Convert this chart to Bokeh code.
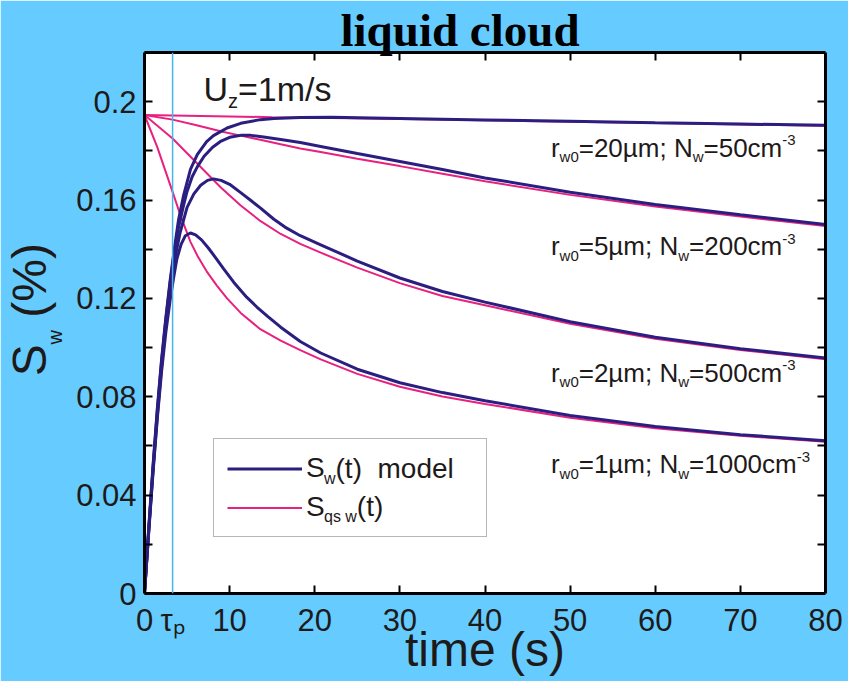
from bokeh.plotting import figure
from bokeh.models import Label, Legend, LegendItem, LinearAxis, FixedTicker, Span, Range1d, Title
from bokeh.embed import file_html
from bokeh.resources import INLINE

# ---------------- data ----------------
# S_w(t) model curves (navy), one per droplet population
t_m20 = [0, 0.5, 1, 1.5, 2, 2.5, 3, 3.5, 4, 4.6, 5.4, 6.2, 7.3, 8.1, 9.7, 11.3, 13.6, 15.2, 18.3, 22, 30, 40, 50, 60, 70, 80]
s_m20 = [0, 0.027, 0.052, 0.075, 0.095, 0.112, 0.127, 0.140, 0.152, 0.162, 0.1725, 0.1785, 0.1838, 0.1862, 0.1893, 0.1912, 0.1927, 0.1932, 0.1936, 0.1937, 0.1932, 0.1926, 0.1920, 0.1914, 0.1909, 0.1904]

t_m5 = [0, 0.5, 1, 1.5, 2, 2.5, 3, 3.5, 4, 4.6, 5.0, 5.6, 6.2, 7.0, 8.0, 9.0, 10.0, 11.3, 12.5, 14, 16, 18.3, 20.7, 25, 30, 35, 40, 50, 60, 70, 80]
s_m5 = [0, 0.026, 0.051, 0.074, 0.094, 0.111, 0.126, 0.139, 0.149, 0.158, 0.1635, 0.1695, 0.1735, 0.1778, 0.1815, 0.1840, 0.1855, 0.1863, 0.1863, 0.1856, 0.1846, 0.1834, 0.1818, 0.1789, 0.1757, 0.1724, 0.1690, 0.1632, 0.1582, 0.1540, 0.1501]

t_m2 = [0, 0.5, 1, 1.5, 2, 2.5, 3, 3.5, 4.2, 5.0, 5.8, 6.6, 7.4, 8.1, 9.0, 10.0, 11.3, 12.5, 13.6, 15.2, 16.5, 18.3, 20.7, 25, 30, 35, 40, 50, 60, 70, 80]
s_m2 = [0, 0.026, 0.050, 0.072, 0.092, 0.109, 0.123, 0.135, 0.147, 0.157, 0.1625, 0.1660, 0.1680, 0.1686, 0.1680, 0.1664, 0.1630, 0.1598, 0.1568, 0.1522, 0.1490, 0.1455, 0.1418, 0.1352, 0.1283, 0.1228, 0.1185, 0.1105, 0.1042, 0.0995, 0.0958]

t_m1 = [0, 0.5, 1, 1.5, 2, 2.5, 3, 3.4, 3.8, 4.3, 4.8, 5.4, 6.0, 6.7, 7.5, 8.3, 9.3, 10.5, 12.0, 13.2, 14.5, 16, 18.3, 20.7, 25, 30, 35, 40, 50, 60, 70, 80]
s_m1 = [0, 0.025, 0.049, 0.071, 0.090, 0.106, 0.119, 0.128, 0.136, 0.1420, 0.1455, 0.1466, 0.1458, 0.1438, 0.1405, 0.1368, 0.1320, 0.1265, 0.1205, 0.1165, 0.1126, 0.1083, 0.1025, 0.0978, 0.0912, 0.0857, 0.0817, 0.0784, 0.0724, 0.0679, 0.0646, 0.0621]

# quasi-steady S_qs,w(t) curves (pink)
t_q20 = [0, 5, 10, 15, 20, 30, 40, 50, 60, 70, 80]
s_q20 = [0.1946, 0.1943, 0.1940, 0.1937, 0.1935, 0.1930, 0.1924, 0.1918, 0.1913, 0.1907, 0.1902]

t_q5 = [0, 3.3, 6.0, 9.3, 11.3, 13.6, 16, 18.3, 20.7, 25, 30, 35, 40, 50, 60, 70, 80]
s_q5 = [0.1946, 0.1927, 0.1905, 0.1877, 0.1862, 0.1845, 0.1827, 0.1810, 0.1795, 0.1768, 0.1738, 0.1707, 0.1676, 0.1621, 0.1574, 0.1533, 0.1494]

t_q2 = [0, 3.3, 7.0, 9.0, 11.3, 13.6, 16, 18.3, 20.7, 25, 30, 35, 40, 50, 60, 70, 80]
s_q2 = [0.1946, 0.1850, 0.1720, 0.1650, 0.1578, 0.1515, 0.1462, 0.1422, 0.1386, 0.1325, 0.1262, 0.1210, 0.1172, 0.1097, 0.1036, 0.0990, 0.0953]

t_q1 = [0, 1.5, 3.3, 4.2, 5.4, 6.3, 7.3, 8.5, 9.7, 11.3, 13.6, 16, 18.3, 20.7, 25, 30, 35, 40, 50, 60, 70, 80]
s_q1 = [0.1946, 0.1815, 0.1633, 0.1540, 0.1430, 0.1368, 0.1310, 0.1252, 0.1200, 0.1141, 0.1075, 0.1028, 0.0990, 0.0952, 0.0893, 0.0841, 0.0801, 0.0771, 0.0715, 0.0672, 0.0641, 0.0617]

tau_p = 3.3  # droplet relaxation time (s)

x_ticks = [0, 10, 20, 30, 40, 50, 60, 70, 80]
x_tick_labels = ["0", "10", "20", "30", "40", "50", "60", "70", "80"]
y_ticks = [0, 0.04, 0.08, 0.12, 0.16, 0.2]
y_tick_labels = ["0", "0.04", "0.08", "0.12", "0.16", "0.2"]
y_minor = [0.02, 0.06, 0.10, 0.14, 0.18, 0.22]
y_all = [0, 0.02, 0.04, 0.06, 0.08, 0.10, 0.12, 0.14, 0.16, 0.18, 0.2, 0.22]

case_labels = [("20", "50"), ("5", "200"), ("2", "500"), ("1", "1000")]

NAVY = "#2A1F80"
PINK = "#E8207F"
SKY = "#66CCFF"
INK = "#1E1A1A"
SANS = "Liberation Sans"
NB = "\u00a0"

# ---------------- figure ----------------
p = figure(width=848, height=681, x_range=Range1d(0, 80), y_range=Range1d(0, 0.22),
           output_backend="svg", toolbar_location=None, tools="", title=None,
           min_border_left=144, min_border_right=23, min_border_top=52, min_border_bottom=88,
           background_fill_color="white", border_fill_color=SKY, outline_line_color=None)
p.grid.visible = False


def frame_axis(ax, ticker):
    ax.ticker = ticker
    ax.axis_line_width = 3
    ax.axis_line_color = "black"
    ax.major_tick_out = 0
    ax.minor_tick_out = 0
    ax.major_tick_line_width = 2
    ax.minor_tick_line_width = 2
    ax.minor_tick_in = 8
    ax.major_label_text_font = SANS
    ax.major_label_text_font_size = "31px"
    ax.major_label_text_color = INK


# bottom: labels at the decades plus tau_p, marks only at the decades (minor ticks)
xb = p.xaxis[0]
frame_axis(xb, FixedTicker(ticks=[0, tau_p] + x_ticks[1:], minor_ticks=x_ticks[1:-1]))
xb.major_tick_in = 0
xb.major_label_standoff = 9
xb.major_label_overrides = dict(zip([0, tau_p] + x_ticks[1:], ["0", "\u03c4\u209a"] + x_tick_labels[1:]))
xb.axis_label = "time (s)"
xb.axis_label_text_font = SANS
xb.axis_label_text_font_size = "48px"
xb.axis_label_text_font_style = "normal"
xb.axis_label_text_color = INK
xb.axis_label_standoff = -18

# left
yl = p.yaxis[0]
frame_axis(yl, FixedTicker(ticks=y_ticks, minor_ticks=y_minor))
yl.major_tick_in = 8
yl.major_label_standoff = 8
yl.major_label_overrides = dict(zip(y_ticks, y_tick_labels))
yl.axis_label = f"{NB}{NB}S{NB}{NB}(%)"
yl.axis_label_text_font = SANS
yl.axis_label_text_font_size = "48px"
yl.axis_label_text_font_style = "normal"
yl.axis_label_text_color = INK
yl.axis_label_standoff = 17

# top and right: tick marks only
top = LinearAxis()
frame_axis(top, FixedTicker(ticks=[], minor_ticks=x_ticks[1:-1]))
top.major_label_standoff = 0
p.add_layout(top, "above")
right = LinearAxis()
frame_axis(right, FixedTicker(ticks=[], minor_ticks=y_all[1:-1]))
right.major_label_standoff = 0
p.add_layout(right, "right")

# title
p.add_layout(Title(text="liquid cloud", align="left", offset=196, standoff=-6,
                   vertical_align="bottom", text_font="Liberation Serif",
                   text_font_style="bold", text_font_size="47px", text_color="black"), "above")

# tau_p marker
p.add_layout(Span(location=tau_p, dimension="height", line_color="#45B6EC", line_width=1.5))

# curves: quasi-steady first, model on top
q_series = [(t_q20, s_q20), (t_q5, s_q5), (t_q2, s_q2), (t_q1, s_q1)]
m_series = [(t_m20, s_m20), (t_m5, s_m5), (t_m2, s_m2), (t_m1, s_m1)]
q_r = [p.line(t, s, line_color=PINK, line_width=2) for t, s in q_series]
m_r = [p.line(t, s, line_color=NAVY, line_width=3) for t, s in m_series]

# legend: transparent box (the frame behind it is white), so the rich labels stay visible
legend = Legend(items=[LegendItem(label="S", renderers=[m_r[0]]),
                       LegendItem(label="S", renderers=[q_r[0]])],
                location=(69, 56), orientation="vertical",
                glyph_width=75, glyph_height=31, label_width=167, label_height=31,
                label_standoff=4, padding=13, spacing=7, margin=0,
                label_text_font=SANS, label_text_font_size="28px", label_text_color=INK,
                border_line_color="#6E6E6E", border_line_width=1.5,
                background_fill_alpha=0)
p.add_layout(legend)

# ---------------- text ----------------
ADV = {' ': 0.278, NB: 0.278, '(': 0.333, ')': 0.333, '%': 0.889, '-': 0.333, '.': 0.278, '/': 0.278,
       ';': 0.278, '=': 0.584, 'N': 0.722, 'S': 0.667, 'U': 0.722, 'c': 0.5, 'd': 0.556,
       'e': 0.556, 'i': 0.222, 'l': 0.222, 'm': 0.833, 'o': 0.556, 'p': 0.556, 'q': 0.556,
       'r': 0.333, 's': 0.5, 't': 0.278, 'w': 0.722, 'z': 0.5, '\u00b5': 0.576}
MID = 0.3465  # middle of the text box above the baseline, in em


def text_width(s, size):
    return sum(ADV.get(c, 0.556) for c in s) * size


def rich_label(x, y, parts, angle=0.0, side=None, x_shift=0.0):
    """Lay out (text, size_px, rise_px) runs one after another from a baseline anchor."""
    adv = x_shift
    for txt, size, rise in parts:
        up = rise + MID * size
        if angle == 0.0:
            xo, yo = adv, up
        else:  # quarter turn counter-clockwise: text runs upward
            xo, yo = -up, adv
        lab = Label(x=x, y=y, x_offset=xo, y_offset=yo, text=txt, angle=angle,
                    text_font=SANS, text_font_size=f"{size}px", text_color=INK,
                    text_align="left", text_baseline="middle")
        if side is None:
            p.add_layout(lab)
        else:
            p.add_layout(lab, side)
        adv += text_width(txt, size)


rich_label(6.92, 0.2005, [("U", 34, 0), ("z", 20, -7), ("=1m/s", 34, 0)])

case_y = [0.1777, 0.1375, 0.0862, 0.0488]
for (r0, nw), yy in zip(case_labels, case_y):
    rich_label(47.74, yy, [("r", 26, 0), ("w0", 15, -5), (f"={r0}\u00b5m;{NB}N", 26, 0),
                           ("w", 15, -5), (f"={nw}cm", 26, 0), ("-3", 15, 11)])

# legend texts continue the "S" drawn by the legend itself
rich_label(18.89, 0.0468, [("w", 16, -6), (f"(t){NB}{NB}model", 28, 0)], x_shift=text_width("S", 28))
rich_label(18.89, 0.0313, [(f"qs{NB}w", 16, -6), ("(t)", 28, 0)], x_shift=text_width("S", 28))

# subscript of the vertical axis title
rich_label(-10.80, 0.1013, [("w", 20, -9)], angle=1.5707963, side="right")

open("out.html", "w").write(file_html(p, INLINE))
